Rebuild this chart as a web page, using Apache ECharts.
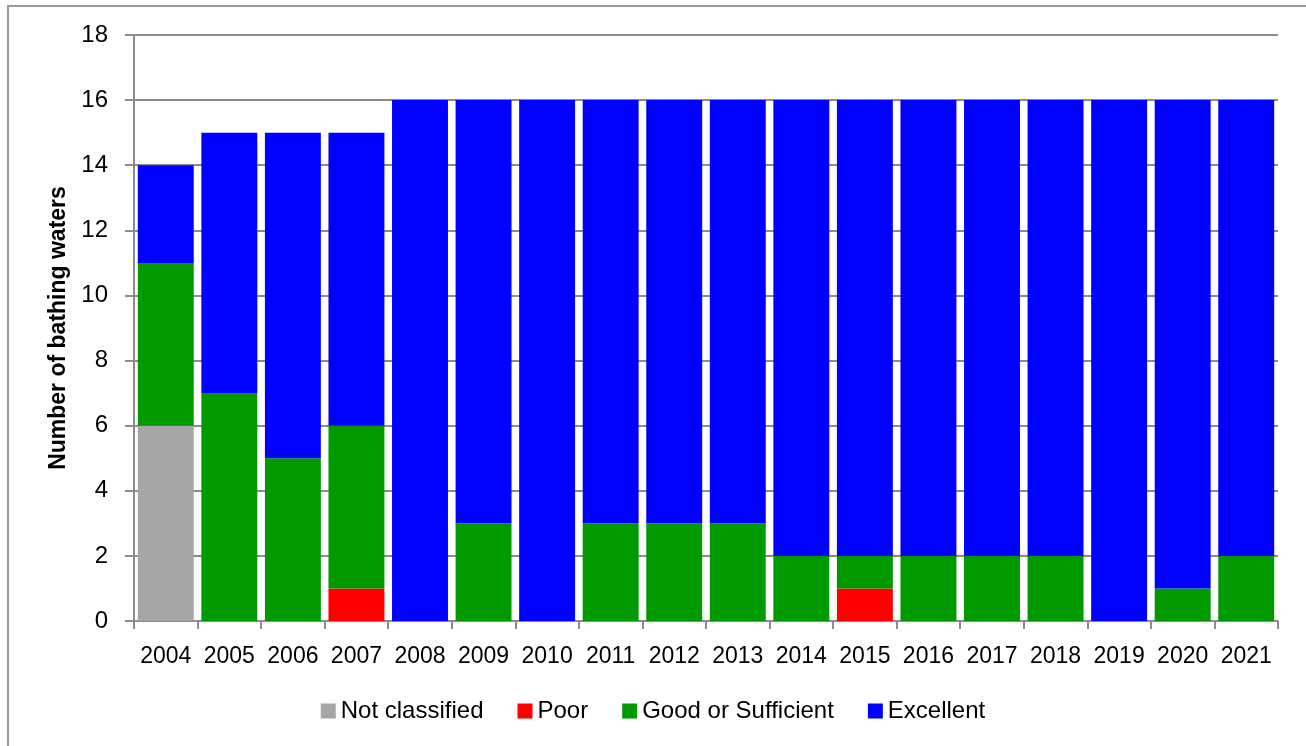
<!DOCTYPE html>
<html>
<head>
<meta charset="utf-8">
<script src="https://cdn.jsdelivr.net/npm/echarts@6/dist/echarts.min.js"></script>
<style>
  html, body { margin: 0; padding: 0; background: #fff; }
  #chart { width: 1306px; height: 746px; }
</style>
</head>
<body>
<div id="chart"></div>
<script>
const years = ['2004','2005','2006','2007','2008','2009','2010','2011','2012','2013','2014','2015','2016','2017','2018','2019','2020','2021']
const notClassified = [6,0,0,0,0,0,0,0,0,0,0,0,0,0,0,0,0,0]
const poor          = [0,0,0,1,0,0,0,0,0,0,0,1,0,0,0,0,0,0]
const goodOrSuff    = [5,7,5,5,0,3,0,3,3,3,2,1,2,2,2,0,1,2]
const excellent     = [3,8,10,9,16,13,16,13,13,13,14,14,14,14,14,16,15,14]

const font = 'Liberation Sans'
var chart = echarts.init(document.getElementById('chart'))

function bar(name, data, color){
  return {
    name: name,
    type: 'bar',
    stack: 'total',
    data: data,
    barCategoryGap: '12%',
    itemStyle: { color: color },
    emphasis: { disabled: true }
  }
}

chart.setOption({
  animation: false,
  textStyle: { fontFamily: font },
  graphic: [{
    type: 'rect',
    shape: { x: 8, y: 6, width: 1400, height: 900 },
    style: { fill: 'none', stroke: '#999', lineWidth: 2 },
    silent: true
  }],
  grid: { left: 134, right: 28, top: 35, bottom: 125 },
  legend: {
    bottom: 18,
    left: 'center',
    icon: 'rect',
    itemWidth: 15,
    itemHeight: 15,
    itemGap: 34,
    textStyle: { fontSize: 24, color: '#000', fontFamily: font },
    data: ['Not classified', 'Poor', 'Good or Sufficient', 'Excellent']
  },
  xAxis: {
    type: 'category',
    data: years,
    axisLine: { lineStyle: { color: '#8c8c8c', width: 2 } },
    axisTick: { show: true, length: 8, lineStyle: { color: '#8c8c8c', width: 2 } },
    axisLabel: { fontSize: 23, color: '#000', margin: 24, interval: 0, fontFamily: font }
  },
  yAxis: {
    type: 'value',
    min: 0,
    max: 18,
    interval: 2,
    name: 'Number of bathing waters',
    nameLocation: 'middle',
    nameGap: 62,
    nameTextStyle: { fontSize: 23, fontWeight: 'bold', color: '#000', fontFamily: font },
    axisLine: { show: true, lineStyle: { color: '#8c8c8c', width: 2 } },
    axisTick: { show: true, length: 9, lineStyle: { color: '#8c8c8c', width: 2 } },
    axisLabel: { fontSize: 24, color: '#000', margin: 26, fontFamily: font },
    splitLine: { lineStyle: { color: '#8c8c8c', width: 2 } }
  },
  series: [
    bar('Not classified', notClassified, '#a6a6a6'),
    bar('Poor', poor, '#ff0000'),
    bar('Good or Sufficient', goodOrSuff, '#009900'),
    bar('Excellent', excellent, '#0000ff')
  ]
})
</script>
</body>
</html>
